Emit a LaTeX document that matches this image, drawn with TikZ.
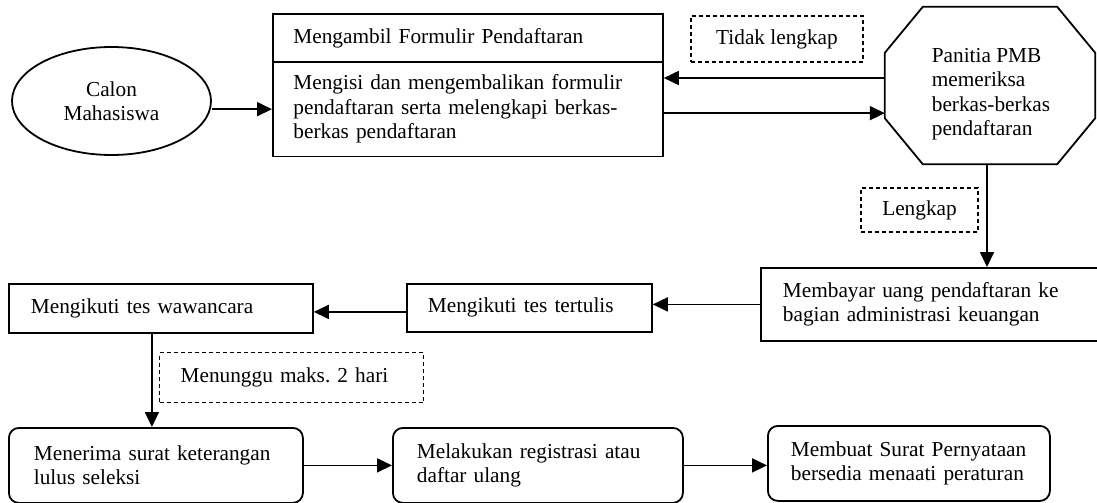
\documentclass[tikz,border=0pt]{standalone}
\usepackage{fontspec}
\setmainfont{Liberation Serif}
\frenchspacing
\usetikzlibrary{shapes.geometric,arrows.meta}

\begin{document}
\begin{tikzpicture}[x=1pt,y=-1pt,
	every node/.style={font=\fontsize{21.3}{24.5}\selectfont},
	box/.style={draw,line width=1.8pt,rectangle,align=left,inner sep=0pt,anchor=north west},
	roundbox/.style={box,rounded corners=10pt},
	note/.style={draw,line width=1.3pt,dash pattern=on 4pt off 3pt,inner sep=0pt},
	arrow/.style={line width=1.8pt,-{Triangle[length=15pt,width=14pt]}}]
	\useasboundingbox (0,0) rectangle (1097,503);
	\clip (0,0) rectangle (1097,503);

	\node (cm) [ellipse,draw,line width=1.8pt,minimum width=199pt,minimum height=108pt,inner sep=0pt,align=center] at (111.5,101) {Calon\\Mahasiswa};
	\node (ambil) [box,minimum height=48pt,inner xsep=20.5pt,text width=349pt] at (272,13) {Mengambil Formulir Pendaftaran};
	\node (isi) [box,minimum height=94.5pt,inner xsep=20.5pt,text width=349pt] at (272,61) {Mengisi dan mengembalikan formulir\\pendaftaran serta melengkapi berkas-\\berkas pendaftaran};
	\node (tidak) [note,minimum width=172pt,minimum height=46pt] at (777,39) {Tidak lengkap};

	\node (okt) [minimum width=210pt,minimum height=157pt,inner sep=0pt] at (990,85.5) {};
	\draw[line width=1.8pt] ([xshift=38pt]okt.north west) -- ([xshift=-38pt]okt.north east) -- ([yshift=-46pt]okt.north east) -- ([yshift=46pt]okt.south east) -- ([xshift=-38pt]okt.south east) -- ([xshift=38pt]okt.south west) -- ([yshift=46pt]okt.south west) -- ([yshift=-46pt]okt.north west) -- cycle;
	\node (pmb) [align=left] at (991,94) {Panitia PMB\\memeriksa\\berkas-berkas\\pendaftaran};
	\node (lengkap) [note,minimum width=117pt,minimum height=44pt] at (919.5,210) {Lengkap};

	\node (bayar) [box,minimum height=73pt,inner xsep=22pt,text width=300pt] at (760,267) {Membayar uang pendaftaran ke\\bagian administrasi keuangan};
	\node (tulis) [box,minimum height=48pt,inner xsep=21pt,text width=203pt] at (406,283) {Mengikuti tes tertulis};
	\node (wawan) [box,minimum height=49pt,inner xsep=22pt,text width=260pt] at (8,283) {Mengikuti tes wawancara};
	\node (tunggu) [note,anchor=north west,minimum height=50pt,inner xsep=21pt,text width=222pt,align=left] at (159,352) {Menunggu maks. 2 hari};

	\node (terima) [roundbox,minimum height=75pt,inner xsep=25pt,text width=244pt] at (8,427) {Menerima surat keterangan\\lulus seleksi};
	\node (daftar) [roundbox,minimum height=75pt,inner xsep=24pt,text width=242pt] at (392,427) {Melakukan registrasi atau\\daftar ulang};
	\node (buat) [roundbox,minimum height=75pt,inner xsep=23pt,text width=236pt] at (767,425) {Membuat Surat Pernyataan\\bersedia menaati peraturan};

	\draw[arrow] (cm.east |- isi.west) -- (isi.west);
	\draw[arrow] ([yshift=7.5pt]okt.west) -- ([yshift=7.5pt]okt.west -| isi.east);
	\draw[arrow] ([yshift=-4pt]isi.east) -- ([yshift=-4pt]isi.east -| okt.west);
	\draw[arrow] ([xshift=-3pt]okt.south) -- ([xshift=-3pt]okt.south |- bayar.north);
	\draw[arrow] (bayar.west) -- (bayar.west -| tulis.east);
	\draw[arrow] ([yshift=-4pt]tulis.west) -- ([yshift=-4pt]tulis.west -| wawan.east);
	\draw[arrow] ([xshift=-9pt]wawan.south) -- ([xshift=-9pt]wawan.south |- terima.north);
	\draw[arrow] (terima.east) -- (terima.east -| daftar.west);
	\draw[arrow] (daftar.east) -- (daftar.east -| buat.west);
\end{tikzpicture}
\end{document}
